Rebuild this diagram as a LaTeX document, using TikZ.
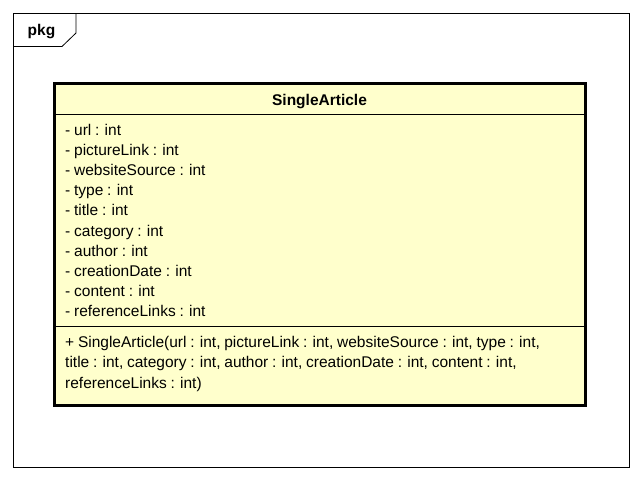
\documentclass[tikz,border=0pt]{standalone}
\usepackage{fontspec}
\setmainfont{Liberation Sans}
\definecolor{classfill}{HTML}{FFFFCC}
\newcommand{\umlfont}{\fontsize{15.5}{17}\selectfont\spaceskip=0.245em plus 0.05em minus 0.05em\relax}
\tikzset{
  frameline/.style={draw=black, line width=0.8pt},
  classbox/.style={draw=black, line width=3pt, fill=classfill},
  sepline/.style={draw=black, line width=1pt},
  member/.style={anchor=base west, inner sep=0pt, font=\umlfont},
  classname/.style={anchor=base, inner sep=0pt, font=\umlfont\bfseries},
}
\begin{document}
\begin{tikzpicture}[x=1pt, y=-1pt]
  \useasboundingbox (0,0) rectangle (642,481);
  \fill[white] (0,0) rectangle (642,481);

  % package frame with its name tab
  \draw[frameline] (13.5,13.5) rectangle (629.5,467.5);
  \draw[frameline] (13.5,46.5) -- (62,46.5) -- (76,33) -- (76,13.5);
  \node[classname] (pkg) at (41.5,36) {pkg};

  % class box
  \draw[classbox] (54,84) rectangle (585,405);
  \draw[sepline] (54,114.5) -- (585,114.5);
  \draw[sepline] (54,326) -- (585,326);
  \node[classname] (cname) at (319.5,105.5) {SingleArticle};

  % attributes
  \foreach \txt [count=\i from 0] in {
      - url : int,
      - pictureLink : int,
      - websiteSource : int,
      - type : int,
      - title : int,
      - category : int,
      - author : int,
      - creationDate : int,
      - content : int,
      - referenceLinks : int}
    \node[member] (attr\i) at (65,135.5+20.1*\i) {\txt};

  % operation
  \node[member] (op1) at (65,347.5) {+ SingleArticle(url : int, pictureLink : int, websiteSource : int, type : int,};
  \node[member] (op2) at (65,367.8) {title : int, category : int, author : int, creationDate : int, content : int,};
  \node[member] (op3) at (65,388.1) {referenceLinks : int)};
\end{tikzpicture}
\end{document}
